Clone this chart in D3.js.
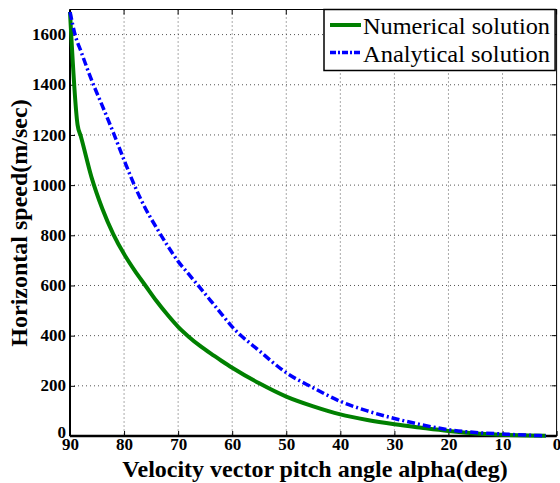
<!DOCTYPE html>
<html><head><meta charset="utf-8">
<script src="https://cdn.jsdelivr.net/npm/d3@7"></script>
<style>body{margin:0;background:#fff;} svg{display:block;}</style>
</head><body>
<script>
const angles = [90, 88.6, 88, 86, 84, 82, 80, 78, 76, 74, 72, 70, 68, 66, 64, 62, 60, 55, 50, 45, 40, 35, 30, 25, 20, 15, 10, 5, 2];
const numerical = [1690, 1240, 1195, 1030, 905, 805, 725, 658, 598, 538, 484, 435, 395, 360, 329, 300, 272, 210, 157, 118, 86, 64, 47, 33, 20, 10, 5, 2, 1];
const anglesA = [90, 89, 88, 86, 84, 82, 80, 78, 76, 74, 72, 70, 68, 66, 64, 62, 60, 55, 50, 45, 40, 35, 30, 25, 20, 15, 10, 5, 2];
const analytical = [1690, 1595, 1535, 1418, 1315, 1210, 1100, 995, 905, 830, 760, 696, 644, 592, 540, 487, 435, 340, 252, 192, 138, 100, 70, 45, 25, 14, 8, 3, 1];
const xTicks = [90, 80, 70, 60, 50, 40, 30, 20, 10, 0];
const yTicks = [0, 200, 400, 600, 800, 1000, 1200, 1400, 1600];
const seriesNames = ["Numerical solution", "Analytical solution"];

const W = 560, H = 483;
const L = 70, R = 556.6, T = 9.5, B = 436;
const svg = d3.select("body").append("svg").attr("width", W).attr("height", H);
const x = d3.scaleLinear().domain([90, 0]).range([L, R]);
const y = d3.scaleLinear().domain([0, 1700]).range([B, T]);

// grid
const g = svg.append("g");
g.selectAll(".vg").data(xTicks.filter(d => d !== 90 && d !== 0)).enter().append("line")
  .attr("x1", d => x(d)).attr("x2", d => x(d)).attr("y1", T).attr("y2", B)
  .attr("stroke", "#555").attr("stroke-width", 1).attr("stroke-dasharray", "1,3");
g.selectAll(".hg").data(yTicks.filter(d => d !== 0)).enter().append("line")
  .attr("x1", L).attr("x2", R).attr("y1", d => y(d)).attr("y2", d => y(d))
  .attr("stroke", "#555").attr("stroke-width", 1).attr("stroke-dasharray", "1,3");

// axes
const font = "'Liberation Serif', 'Times New Roman', serif";
const xAxis = svg.append("g").attr("transform", `translate(0,${B})`)
  .call(d3.axisBottom(x).tickValues(xTicks).tickFormat(d3.format("d")).tickSize(-5).tickPadding(4).tickSizeOuter(0));
const yAxis = svg.append("g").attr("transform", `translate(${L},0)`)
  .call(d3.axisLeft(y).tickValues(yTicks).tickFormat(d3.format("d")).tickSize(-5).tickPadding(4).tickSizeOuter(0));
[xAxis, yAxis].forEach(a => {
  a.attr("font-family", font);
  a.select(".domain").remove();
  a.selectAll("text").attr("font-family", font).attr("font-weight", "bold").attr("font-size", 17).attr("fill", "#000");
  a.selectAll("line").attr("stroke", "#000");
});
xAxis.selectAll("text").attr("dy", "0.6em");
yAxis.selectAll("text").attr("dy", d => d === 0 ? "0.1em" : "0.3em");
// right and top ticks
svg.append("g").selectAll("line").data(yTicks).enter().append("line")
  .attr("x1", R).attr("x2", R - 5).attr("y1", d => y(d)).attr("y2", d => y(d)).attr("stroke", "#000");
svg.append("g").selectAll("line").data(xTicks).enter().append("line")
  .attr("x1", d => x(d)).attr("x2", d => x(d)).attr("y1", T).attr("y2", T + 5).attr("stroke", "#000");

// box
svg.append("rect").attr("x", L).attr("y", T).attr("width", R - L).attr("height", B - T)
  .attr("fill", "none").attr("stroke", "#000").attr("stroke-width", 1);
svg.append("line").attr("x1", L).attr("x2", R).attr("y1", B).attr("y2", B).attr("stroke", "#000").attr("stroke-width", 2.5);
svg.append("line").attr("x1", L).attr("x2", L).attr("y1", T).attr("y2", B).attr("stroke", "#000").attr("stroke-width", 2);

// lines
const lineN = d3.line().x((d, i) => x(angles[i])).y(d => y(d)).curve(d3.curveMonotoneX);
const lineA = d3.line().x((d, i) => x(anglesA[i])).y(d => y(d)).curve(d3.curveMonotoneX);
svg.append("path").attr("d", lineN(numerical)).attr("fill", "none")
  .attr("stroke", "#008000").attr("stroke-width", 4);
svg.append("path").attr("d", lineA(analytical)).attr("fill", "none")
  .attr("stroke", "#0000ff").attr("stroke-width", 3.5).attr("stroke-dasharray", "8,3,2,3");

// legend
const lg = svg.append("g");
lg.append("rect").attr("x", 324).attr("y", T).attr("width", R - 1.5 - 324).attr("height", 61)
  .attr("fill", "#fff").attr("stroke", "#000").attr("stroke-width", 1.5);
const styles = [{c: "#008000", w: 4, d: null}, {c: "#0000ff", w: 3.5, d: "6,2,2,2"}];
seriesNames.forEach((n, i) => {
  const yy = 25 + i * 27.5;
  const ln = lg.append("line").attr("x1", 330).attr("x2", 361).attr("y1", yy).attr("y2", yy)
    .attr("stroke", styles[i].c).attr("stroke-width", styles[i].w);
  if (styles[i].d) ln.attr("stroke-dasharray", styles[i].d);
  lg.append("text").attr("x", 363).attr("y", yy + 9).text(n)
    .attr("font-family", font).attr("font-size", 24).attr("fill", "#000")
    .attr("textLength", 187).attr("lengthAdjust", "spacingAndGlyphs");
});

// axis titles
svg.append("text").attr("x", 315).attr("y", 477).attr("text-anchor", "middle")
  .attr("font-family", font).attr("font-weight", "bold").attr("font-size", 24)
  .text("Velocity vector pitch angle alpha(deg)");
svg.append("text").attr("transform", "translate(27,223) rotate(-90)").attr("text-anchor", "middle")
  .attr("font-family", font).attr("font-weight", "bold").attr("font-size", 24)
  .text("Horizontal speed(m/sec)");
</script>
</body></html>
